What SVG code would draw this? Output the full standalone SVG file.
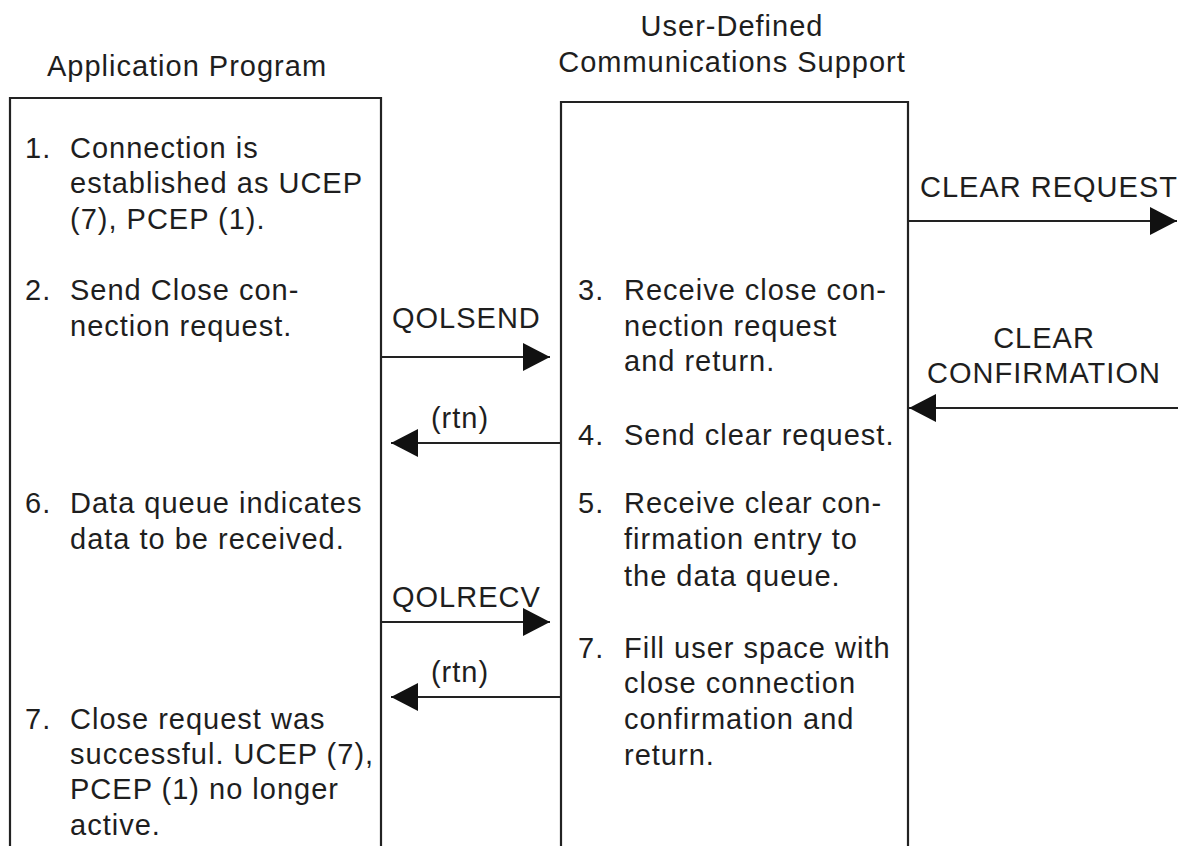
<svg xmlns="http://www.w3.org/2000/svg" width="1190" height="846" viewBox="0 0 1190 846">
<defs>
<style>
text{font-family:"Liberation Sans",Arial,sans-serif;font-size:29px;fill:#1e1e1e;letter-spacing:1px}
.mid{text-anchor:middle}
.box{fill:none;stroke:#222;stroke-width:2.2}
.conn{fill:none;stroke:#222;stroke-width:2.2}
</style>
<marker id="ah" markerUnits="userSpaceOnUse" markerWidth="28" markerHeight="30" refX="27" refY="14" orient="auto">
<path d="M0,0 L27,14 L0,28 Z" fill="#111"/>
</marker>
</defs>
<rect width="1190" height="846" fill="#fff"/>

<g id="app-program">
<text class="mid" x="187" y="76">Application Program</text>
<path class="box" d="M10,850 V98 H381 V850"/>
<text x="25" y="158">1.</text>
<text x="70" y="158">Connection is</text>
<text x="70" y="193">established as UCEP</text>
<text x="70" y="229">(7), PCEP (1).</text>
<text x="25" y="300">2.</text>
<text x="70" y="300">Send Close con-</text>
<text x="70" y="336">nection request.</text>
<text x="25" y="513">6.</text>
<text x="70" y="513">Data queue indicates</text>
<text x="70" y="549">data to be received.</text>
<text x="25" y="729">7.</text>
<text x="70" y="729">Close request was</text>
<text x="70" y="764">successful. UCEP (7),</text>
<text x="70" y="799">PCEP (1) no longer</text>
<text x="70" y="835">active.</text>
</g>

<g id="udc-support">
<text class="mid" x="732" y="36">User-Defined</text>
<text class="mid" x="732" y="72">Communications Support</text>
<path class="box" d="M561,850 V102 H908 V850"/>
<text x="578" y="300">3.</text>
<text x="624" y="300">Receive close con-</text>
<text x="624" y="336">nection request</text>
<text x="624" y="371">and return.</text>
<text x="578" y="445">4.</text>
<text x="624" y="445">Send clear request.</text>
<text x="578" y="513">5.</text>
<text x="624" y="513">Receive clear con-</text>
<text x="624" y="549">firmation entry to</text>
<text x="624" y="586">the data queue.</text>
<text x="578" y="658">7.</text>
<text x="624" y="658">Fill user space with</text>
<text x="624" y="693">close connection</text>
<text x="624" y="729">confirmation and</text>
<text x="624" y="765">return.</text>
</g>

<g id="connectors">
<path class="conn" d="M381,357 H550" marker-end="url(#ah)"/>
<text x="392" y="328">QOLSEND</text>
<path class="conn" d="M561,443 H391" marker-end="url(#ah)"/>
<text class="mid" x="460" y="428">(rtn)</text>
<path class="conn" d="M381,622 H550" marker-end="url(#ah)"/>
<text x="392" y="607">QOLRECV</text>
<path class="conn" d="M561,697 H391" marker-end="url(#ah)"/>
<text class="mid" x="460" y="682">(rtn)</text>
<path class="conn" d="M908,221 H1177" marker-end="url(#ah)"/>
<text x="920" y="197">CLEAR REQUEST</text>
<path class="conn" d="M1178,408 H909" marker-end="url(#ah)"/>
<text class="mid" x="1044" y="348">CLEAR</text>
<text class="mid" x="1044" y="383">CONFIRMATION</text>
</g>
</svg>
